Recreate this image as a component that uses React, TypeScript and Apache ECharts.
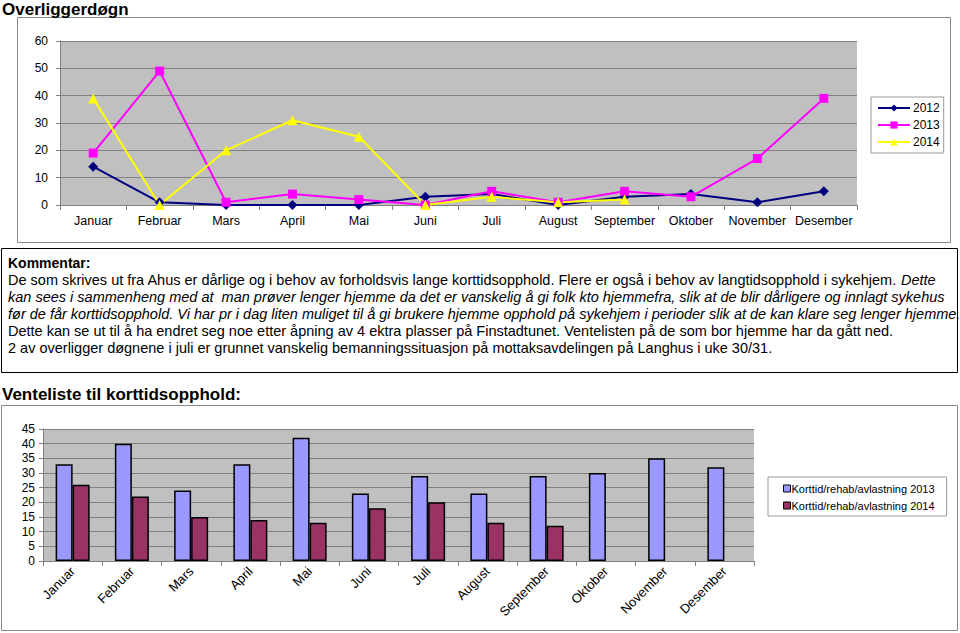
import React, { useEffect, useRef } from "react";
import * as echarts from "echarts";

const months = ["Januar", "Februar", "Mars", "April", "Mai", "Juni", "Juli", "August", "September", "Oktober", "November", "Desember"];
const over2012 = [14, 1, 0, 0, 0, 3, 4, 0, 3, 4, 1, 5];
const over2013 = [19, 49, 1, 4, 2, 0, 5, 1, 5, 3, 17, 39];
const over2014 = [39, 0, 20, 31, 25, 0, 3, 1, 2, null, null, null];
const vent2013 = [33, 40, 24, 33, 42, 23, 29, 23, 29, 30, 35, 32];
const vent2014 = [26, 22, 15, 14, 13, 18, 20, 13, 12, null, null, null];

const titleTop = "Overliggerdøgn";
const titleBottom = "Venteliste til korttidsopphold:";
const commentHead = "Kommentar:";
const commentLines = [
  { rich: true, text: "De som skrives ut fra Ahus er dårlige og i behov av forholdsvis lange korttidsopphold. Flere er også i behov av langtidsopphold i sykehjem. {i|Dette}" },
  { italic: true, text: "kan sees i sammenheng med at  man prøver lenger hjemme da det er vanskelig å gi folk kto hjemmefra, slik at de blir dårligere og innlagt sykehus" },
  { italic: true, text: "før de får korttidsopphold. Vi har pr i dag liten muliget til å gi brukere hjemme opphold på sykehjem i perioder slik at de kan klare seg lenger hjemme." },
  { text: "Dette kan se ut til å ha endret seg noe etter åpning av 4 ektra plasser på Finstadtunet. Ventelisten på de som bor hjemme har da gått ned." },
  { text: "2 av overligger døgnene i juli er grunnet vanskelig bemanningssituasjon på mottaksavdelingen på Langhus i uke 30/31." },
];

const FONT = "Arial, 'Liberation Sans', Helvetica, sans-serif";

export default function App() {
  const ref = useRef<HTMLDivElement>(null);
  useEffect(() => {
    if (!ref.current) return;
    const chart = echarts.init(ref.current, null, { renderer: "svg" });
    const axisLabel = { color: "#000", fontFamily: FONT, fontSize: 12 };
    const graphics: any[] = [
      { type: "rect", z: -10, shape: { x: 17.5, y: 17.5, width: 933, height: 225 }, style: { fill: "#fff", stroke: "#8a8a8a", lineWidth: 1 } },
      { type: "rect", z: -10, shape: { x: 1.5, y: 248.5, width: 956, height: 124 }, style: { fill: "#fff", stroke: "#000", lineWidth: 1 } },
      { type: "rect", z: -10, shape: { x: 1.5, y: 405.5, width: 956, height: 225 }, style: { fill: "#fff", stroke: "#8a8a8a", lineWidth: 1 } },
      { type: "text", x: 2, y: 9, style: { text: titleTop, font: `bold 17px ${FONT}`, fill: "#000", verticalAlign: "middle" } },
      { type: "text", x: 2, y: 394, style: { text: titleBottom, font: `bold 17px ${FONT}`, fill: "#000", verticalAlign: "middle" } },
      { type: "text", x: 8, y: 263, style: { text: commentHead, font: `bold 14px ${FONT}`, fill: "#000", verticalAlign: "middle" } },
    ];
    commentLines.forEach((l: any, i) => {
      graphics.push({
        type: "text",
        x: 8,
        y: 280 + i * 17,
        style: {
          text: l.text,
          font: `${l.italic ? "italic " : ""}14.5px ${FONT}`,
          fill: "#000",
          verticalAlign: "middle",
          rich: l.rich ? { i: { fontStyle: "italic", fontSize: 14.5, fontFamily: FONT } } : undefined,
        },
      });
    });
    chart.setOption({
      animation: false,
      textStyle: { fontFamily: FONT },
      grid: [
        { left: 60, right: 103, top: 41, bottom: 428, show: true, backgroundColor: "#c0c0c0", borderWidth: 0, containLabel: false },
        { left: 43, right: 206, top: 429, bottom: 72, show: true, backgroundColor: "#c0c0c0", borderWidth: 0, containLabel: false },
      ],
      legend: [
        {
          data: ["2012", "2013", "2014"],
          orient: "vertical",
          left: 871,
          top: 97,
          itemWidth: 32,
          itemHeight: 9,
          itemGap: 5,
          padding: [5, 4, 5, 6],
          backgroundColor: "#fff",
          borderColor: "#999",
          borderWidth: 1,
          borderRadius: 0,
          textStyle: { color: "#000", fontSize: 12, fontFamily: FONT, padding: [0, 0, 0, -2] },
        },
        {
          data: ["Korttid/rehab/avlastning 2013", "Korttid/rehab/avlastning 2014"],
          orient: "vertical",
          left: 768,
          top: 477,
          itemWidth: 7,
          itemHeight: 7,
          itemGap: 6,
          padding: [6, 12, 5, 15],
          backgroundColor: "#fff",
          borderColor: "#999",
          borderWidth: 1,
          borderRadius: 0,
          icon: "rect",
          itemStyle: { borderColor: "#000", borderWidth: 1 },
          textStyle: { color: "#000", fontSize: 11, fontFamily: FONT, padding: [0, 0, 0, -4] },
        },
      ],
      xAxis: [
        {
          gridIndex: 0,
          type: "category",
          data: months,
          boundaryGap: true,
          axisLine: { lineStyle: { color: "#808080" } },
          axisTick: { show: true, length: 5, lineStyle: { color: "#808080" } },
          axisLabel: { ...axisLabel, fontSize: 12.5, margin: 9, interval: 0 },
        },
        {
          gridIndex: 1,
          type: "category",
          data: months,
          boundaryGap: true,
          axisLine: { lineStyle: { color: "#808080" } },
          axisTick: { show: true, length: 5, lineStyle: { color: "#808080" } },
          axisLabel: { ...axisLabel, fontSize: 13, rotate: 45, margin: 8, interval: 0 },
        },
      ],
      yAxis: [
        {
          gridIndex: 0,
          type: "value",
          min: 0,
          max: 60,
          interval: 10,
          axisLine: { show: true, lineStyle: { color: "#808080" } },
          axisTick: { show: true, length: 4, lineStyle: { color: "#808080" } },
          axisLabel: { ...axisLabel, margin: 12 },
          splitLine: { lineStyle: { color: "#808080" } },
        },
        {
          gridIndex: 1,
          type: "value",
          min: 0,
          max: 45,
          interval: 5,
          axisLine: { show: true, lineStyle: { color: "#808080" } },
          axisTick: { show: true, length: 4, lineStyle: { color: "#808080" } },
          axisLabel: { ...axisLabel, margin: 8 },
          splitLine: { lineStyle: { color: "#808080" } },
        },
      ],
      series: [
        {
          name: "2012", type: "line", xAxisIndex: 0, yAxisIndex: 0, data: over2012,
          symbol: "diamond", symbolSize: 10, color: "#000080",
          lineStyle: { width: 2, color: "#000080" }, itemStyle: { color: "#000080" },
        },
        {
          name: "2013", type: "line", xAxisIndex: 0, yAxisIndex: 0, data: over2013,
          symbol: "rect", symbolSize: 9, color: "#ff00ff",
          lineStyle: { width: 2, color: "#ff00ff" }, itemStyle: { color: "#ff00ff" },
        },
        {
          name: "2014", type: "line", xAxisIndex: 0, yAxisIndex: 0, data: over2014,
          symbol: "triangle", symbolSize: 10, color: "#ffff00",
          lineStyle: { width: 2, color: "#ffff00" }, itemStyle: { color: "#ffff00" },
        },
        {
          name: "Korttid/rehab/avlastning 2013", type: "bar", xAxisIndex: 1, yAxisIndex: 1, data: vent2013,
          barWidth: 17, barGap: "0%", color: "#9999ff",
          itemStyle: { color: "#9999ff", borderColor: "#000", borderWidth: 1.5 },
        },
        {
          name: "Korttid/rehab/avlastning 2014", type: "bar", xAxisIndex: 1, yAxisIndex: 1, data: vent2014,
          barWidth: 17, barGap: "0%", color: "#993366",
          itemStyle: { color: "#993366", borderColor: "#000", borderWidth: 1.5 },
        },
      ],
      graphic: graphics,
    });
    return () => chart.dispose();
  }, []);
  return (
    <div
      ref={ref}
      style={{ position: "fixed", left: 0, top: 0, width: 960, height: 633, background: "#fff" }}
    />
  );
}
